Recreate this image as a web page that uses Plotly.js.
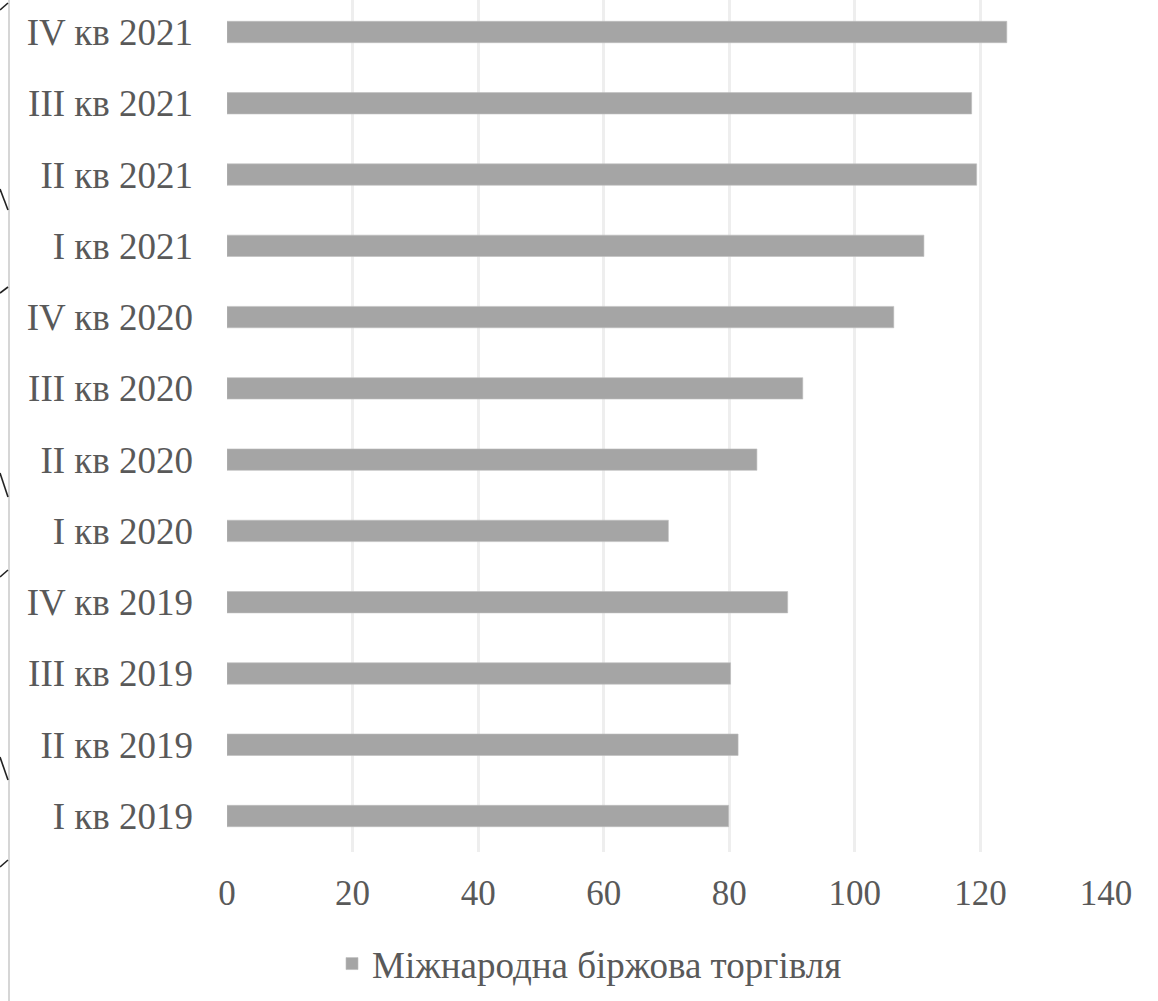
<!DOCTYPE html>
<html>
<head>
<meta charset="utf-8">
<script src="https://cdn.plot.ly/plotly-3.0.1.min.js"></script>
<style>
  html, body { margin: 0; padding: 0; background: #ffffff; }
  #chart { width: 1158px; height: 1001px; }
</style>
</head>
<body>
<div id="chart"></div>
<script>
// Quarterly volume of international exchange trading, bottom to top
const quarters = [
  "I кв 2019", "II кв 2019", "III кв 2019", "IV кв 2019",
  "I кв 2020", "II кв 2020", "III кв 2020", "IV кв 2020",
  "I кв 2021", "II кв 2021", "III кв 2021", "IV кв 2021"
];
const tradeVolume = [79.9, 81.4, 80.2, 89.3, 70.3, 84.4, 91.7, 106.2, 111.0, 119.4, 118.6, 124.2];
const xTicks = [0, 20, 40, 60, 80, 100, 120, 140];
const seriesName = "Міжнародна біржова торгівля";

const W = 1158, H = 1001;
const M = { l: 227, r: 52, t: 0, b: 149 };
const plotW = W - M.l - M.r, plotH = H - M.t - M.b;

// pixel -> paper helpers for the page-edge decorations
const px = x => (x - M.l) / plotW;
const py = y => (H - M.b - y) / plotH;

const serif = 'Liberation Serif, Times New Roman, DejaVu Serif, serif';
const textGray = '#595959';

const shapes = [];
// thin page border line at the far left
shapes.push({
  type: 'line', xref: 'paper', yref: 'paper',
  x0: px(9), x1: px(9), y0: py(0), y1: py(H),
  line: { color: '#d6d6d6', width: 2 }, layer: 'above'
});
// brace fragments at the left edge
const strokes = [
  [0, 10, 8, 3],
  [0, 189, 8, 210], [0, 293, 8, 287],
  [0, 473, 8, 497], [0, 577, 8, 570],
  [0, 757, 8, 780], [0, 867, 8, 860]
];
strokes.forEach(s => shapes.push({
  type: 'line', xref: 'paper', yref: 'paper',
  x0: px(s[0]), y0: py(s[1]), x1: px(s[2]), y1: py(s[3]),
  line: { color: '#222222', width: 1.6 }, layer: 'above'
}));

const trace = {
  type: 'bar',
  orientation: 'h',
  y: quarters,
  x: tradeVolume,
  name: seriesName,
  width: 0.3,
  marker: { color: '#a5a5a5', line: { color: '#bdbdbd', width: 0.6 } },
  showlegend: true,
  hoverinfo: 'x+y'
};

const layout = {
  width: W, height: H,
  margin: M,
  paper_bgcolor: '#ffffff',
  plot_bgcolor: '#ffffff',
  font: { family: serif, color: textGray, size: 36 },
  xaxis: {
    range: [0, 140],
    tickvals: xTicks,
    ticktext: xTicks.map(String),
    showgrid: true,
    gridcolor: '#eeeeee',
    gridwidth: 3,
    zeroline: false,
    showline: false,
    ticks: '',
    ticklabelstandoff: 17,
    tickfont: { family: serif, size: 35, color: textGray },
    fixedrange: true
  },
  yaxis: {
    type: 'category',
    categoryorder: 'array',
    categoryarray: quarters,
    range: [-0.505, 11.449],
    showgrid: false,
    zeroline: false,
    showline: false,
    ticks: '',
    ticklabelstandoff: 33,
    tickfont: { family: serif, size: 37, color: textGray },
    fixedrange: true
  },
  showlegend: true,
  legend: {
    orientation: 'h',
    xref: 'container', yref: 'container',
    x: 332 / W, xanchor: 'left',
    y: 1 - 964 / H, yanchor: 'middle',
    font: { family: serif, size: 37, color: textGray },
    bgcolor: 'rgba(0,0,0,0)'
  },
  shapes: shapes
};

Plotly.newPlot('chart', [trace], layout, { displayModeBar: false, staticPlot: true });
</script>
</body>
</html>
